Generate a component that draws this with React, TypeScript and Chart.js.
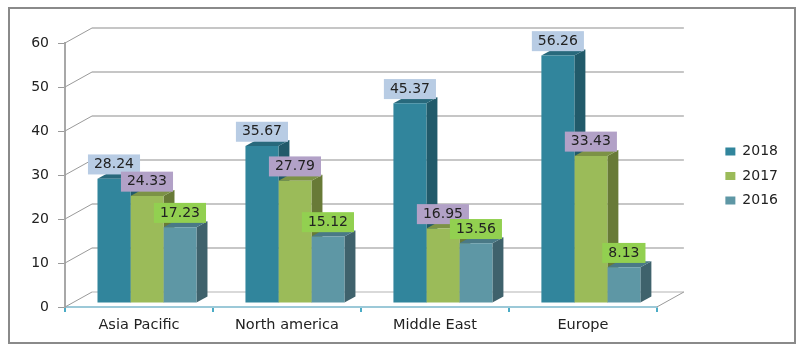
import React, { useEffect, useRef } from "react";
import { Chart, registerables } from "chart.js";

Chart.register(...registerables);

const categories = ["Asia Pacific", "North america", "Middle East", "Europe"];
const series2018 = [28.24, 35.67, 45.37, 56.26];
const series2017 = [24.33, 27.79, 16.95, 33.43];
const series2016 = [17.23, 15.12, 13.56, 8.13];
const seriesNames = ["2018", "2017", "2016"];
const frontColors = ["#31859C", "#9BBB59", "#5E97A5"];
const sideColors = ["#215A6A", "#687A37", "#3F626C"];
const topColors = ["#28697C", "#7C9246", "#4A7986"];
const labelColors = ["#B8CCE4", "#B2A1C7", "#92D050"];
const FONT = "'DejaVu Sans'";
const BAR_DX = 8;
const BAR_DY = -4;
const DEPTH_X = 11;
const DEPTH_Y = -6;
const WALL_DX = 27;
const WALL_DY = -15;

const poly = (ctx: CanvasRenderingContext2D, color: string, pts: number[][]) => {
  ctx.fillStyle = color;
  ctx.beginPath();
  pts.forEach((p, i) => (i ? ctx.lineTo(p[0], p[1]) : ctx.moveTo(p[0], p[1])));
  ctx.closePath();
  ctx.fill();
};

const scene = {
  id: "scene",
  beforeDraw(chart: any) {
    const { ctx, width, height } = chart;
    ctx.save();
    ctx.fillStyle = "#fff";
    ctx.fillRect(0, 0, width, height);
    ctx.strokeStyle = "#8A8A8A";
    ctx.lineWidth = 2;
    ctx.strokeRect(9, 8, 786, 335);
    ctx.restore();
  },
  beforeDatasetsDraw(chart: any) {
    const { ctx, chartArea: a, scales } = chart;
    const y = scales.y;
    ctx.save();
    y.ticks.forEach((t: any) => {
      const py = y.getPixelForValue(t.value);
      ctx.beginPath();
      ctx.lineWidth = t.value <= 30 && t.value > 0 ? 1.6 : 1.2;
      ctx.strokeStyle = t.value <= 30 ? "#B4B4B4" : "#8E8E8E";
      ctx.moveTo(a.left + WALL_DX, py + WALL_DY);
      ctx.lineTo(a.right + WALL_DX, py + WALL_DY);
      ctx.stroke();
      ctx.beginPath();
      ctx.lineWidth = 1;
      ctx.strokeStyle = "#9A9A9A";
      ctx.moveTo(a.left, py);
      ctx.lineTo(a.left + WALL_DX, py + WALL_DY);
      if (t.value === 0) {
        ctx.moveTo(a.right, py);
        ctx.lineTo(a.right + WALL_DX, py + WALL_DY);
      }
      ctx.stroke();
    });
    // depth faces, drawn from the left bar to the right one
    ctx.translate(BAR_DX, BAR_DY);
    chart.data.datasets.forEach((_: any, d: number) => {
      chart.getDatasetMeta(d).data.forEach((b: any) => {
        const l = b.x - b.width / 2;
        const r = b.x + b.width / 2;
        poly(ctx, sideColors[d], [
          [r, b.y],
          [r + DEPTH_X, b.y + DEPTH_Y],
          [r + DEPTH_X, b.base + DEPTH_Y],
          [r, b.base],
        ]);
        poly(ctx, topColors[d], [
          [l, b.y],
          [l + DEPTH_X, b.y + DEPTH_Y],
          [r + DEPTH_X, b.y + DEPTH_Y],
          [r, b.y],
        ]);
      });
    });
    ctx.restore();
    ctx.save();
    ctx.translate(BAR_DX, BAR_DY);
  },
  afterDatasetsDraw(chart: any) {
    const { ctx } = chart;
    ctx.restore();
    ctx.save();
    ctx.font = `14px ${FONT}`;
    ctx.textAlign = "center";
    ctx.textBaseline = "middle";
    chart.data.datasets.forEach((ds: any, d: number) => {
      chart.getDatasetMeta(d).data.forEach((b: any, i: number) => {
        const text = ds.data[i].toFixed(2);
        const w = ctx.measureText(text).width + 12;
        const cx = b.x + BAR_DX;
        const bottom = b.y + BAR_DY - 4.3;
        ctx.fillStyle = labelColors[d];
        ctx.fillRect(cx - w / 2, bottom - 20, w, 20);
        ctx.fillStyle = "#222";
        ctx.fillText(text, cx, bottom - 10);
      });
    });
    ctx.restore();
  },
};

export default function App() {
  const ref = useRef<HTMLCanvasElement>(null);
  useEffect(() => {
    const chart = new Chart(ref.current!, {
      type: "bar",
      data: {
        labels: categories,
        datasets: [series2018, series2017, series2016].map((data, i) => ({
          label: seriesNames[i],
          data,
          backgroundColor: frontColors[i],
          borderWidth: 0,
          categoryPercentage: 0.669,
          barPercentage: 1,
          clip: false as any,
        })),
      },
      options: {
        animation: false,
        responsive: false,
        layout: { padding: { top: 0, left: 0, right: 14, bottom: 0 } },
        plugins: {
          tooltip: { enabled: false },
          legend: {
            position: "right",
            labels: {
              boxWidth: 10,
              boxHeight: 8,
              padding: 10.5,
              color: "#222",
              font: { family: FONT, size: 14 },
            },
          },
        },
        scales: {
          x: {
            grid: { offset: true, drawOnChartArea: false, tickLength: 5, color: "#4BACC6", lineWidth: 2 },
            border: { color: "#9CC9D8", width: 2 },
            ticks: { color: "#222", font: { family: FONT, size: 14.5 }, padding: 5, maxRotation: 0 },
            afterFit: (s: any) => { s.height = 45; },
          },
          y: {
            min: 0,
            max: 60,
            grid: { drawOnChartArea: false, tickLength: 7, color: "#9A9A9A" },
            border: { color: "#A8A8A8", width: 2 },
            ticks: { stepSize: 10, color: "#222", font: { family: FONT, size: 14 }, padding: 9 },
            afterFit: (s: any) => { s.width = 65; },
          },
          spacer: {
            position: "right",
            display: true,
            grid: { display: false },
            border: { display: false },
            ticks: { display: false },
            afterFit: (s: any) => { s.width = 58; },
          },
          spacerTop: {
            type: "linear",
            axis: "x",
            position: "top",
            display: true,
            grid: { display: false },
            border: { display: false },
            ticks: { display: false },
            afterFit: (s: any) => { s.height = 43; },
          },
        },
      } as any,
      plugins: [scene],
    });
    return () => chart.destroy();
  }, []);
  return (
    <div style={{ position: "fixed", left: 0, top: 0, width: 802, height: 352, background: "#fff" }}>
      <canvas ref={ref} width={802} height={352} style={{ display: "block" }} />
    </div>
  );
}
